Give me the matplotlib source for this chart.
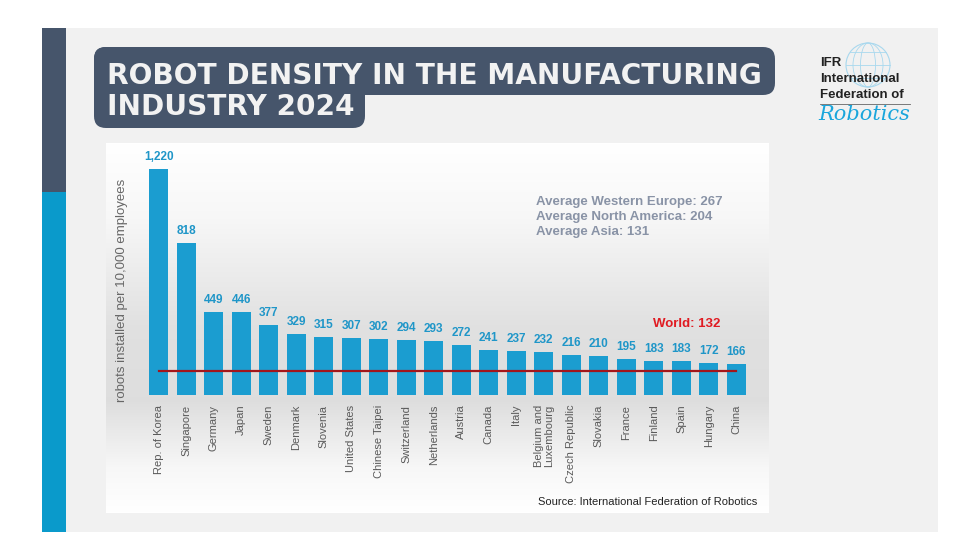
import matplotlib.pyplot as plt
from matplotlib.patches import Rectangle, FancyBboxPatch, Circle, Ellipse
import numpy as np

# data
countries = ["Rep. of Korea", "Singapore", "Germany", "Japan", "Sweden", "Denmark",
             "Slovenia", "United States", "Chinese Taipei", "Switzerland", "Netherlands",
             "Austria", "Canada", "Italy", "Belgium and\nLuxembourg", "Czech Republic",
             "Slovakia", "France", "Finland", "Spain", "Hungary", "China"]
density = [1220, 818, 449, 446, 377, 329, 315, 307, 302, 294, 293, 272,
           241, 237, 232, 216, 210, 195, 183, 183, 172, 166]
world = 132
averages = ["Average Western Europe: 267",
            "Average North America: 204",
            "Average Asia: 131"]

W, H = 980, 560
BLUE = "#1b9dd0"
NAVY = "#46556b"

fig = plt.figure(figsize=(W / 100, H / 100), dpi=100)
fig.patch.set_facecolor("white")

# background axes in pixel coordinates
bg = fig.add_axes([0, 0, 1, 1])
bg.set_xlim(0, W)
bg.set_ylim(H, 0)
bg.axis("off")

# slide background and left strip
bg.add_patch(Rectangle((66, 28), 872, 504, color="#f1f1f1", lw=0))
bg.add_patch(Rectangle((42, 28), 24, 164, color=NAVY, lw=0))
bg.add_patch(Rectangle((42, 192), 24, 340, color="#0a9acb", lw=0))

# chart panel with soft grey gradient
bg.add_patch(Rectangle((106, 143), 662, 370, color="white", lw=0))
ys = np.linspace(0, 1, 200)
shade = np.interp(ys, [0, 0.2, 0.5, 0.7, 0.88, 1], [1.0, 0.97, 0.88, 0.87, 0.97, 1.0])
grad = np.dstack([shade, shade, shade])[0][:, None, :].repeat(2, axis=1)
bg.imshow(grad, extent=[106, 768, 513, 143], aspect="auto", zorder=1)

# title box (two rounded blocks merged)
bg.add_patch(FancyBboxPatch((94, 47), 681, 48, boxstyle="round,pad=0,rounding_size=12",
                            color=NAVY, lw=0, zorder=2))
bg.add_patch(FancyBboxPatch((94, 47), 271, 81, boxstyle="round,pad=0,rounding_size=12",
                            color=NAVY, lw=0, zorder=2))
bg.add_patch(Rectangle((120, 80), 230, 30, color=NAVY, lw=0, zorder=2))
bg.text(107, 84, "ROBOT DENSITY IN THE MANUFACTURING", color="#f2f2f2", fontsize=20.2,
        fontweight="heavy", family="DejaVu Sans", ha="left", va="baseline", zorder=3)
bg.text(107, 115, "INDUSTRY 2024", color="#f2f2f2", fontsize=20.2,
        fontweight="heavy", family="DejaVu Sans", ha="left", va="baseline", zorder=3)

# IFR logo
bg.add_patch(Circle((868, 65), 22, fill=False, ec="#a8d8ee", lw=0.8, zorder=2))
for wdt in [15, 30]:
    bg.add_patch(Ellipse((868, 65), wdt, 44, fill=False, ec="#a8d8ee", lw=0.6, zorder=2))
for dy in [-13, 0, 13]:
    half = np.sqrt(22 ** 2 - dy ** 2)
    bg.plot([868 - half, 868 + half], [65 + dy, 65 + dy], color="#a8d8ee", lw=0.6, zorder=2)
for i, word in enumerate(["IFR", "International", "Federation of"]):
    bg.text(820, 63 + 16 * i, word, color="#222222", fontsize=9.5, fontweight="bold",
            family="Liberation Sans", ha="left", va="center", zorder=3)
bg.plot([820, 910], [104, 104], color="#666666", lw=0.6, zorder=3)
bg.text(818, 115, "Robotics", color="#1aa6dc", fontsize=15, style="italic",
        family="DejaVu Serif", ha="left", va="center", zorder=3)

# averages and source
for i, line in enumerate(averages):
    bg.text(536, 202 + 15 * i, line, color="#8993a6", fontsize=9.5, fontweight="bold",
            family="Liberation Sans", ha="left", va="center", zorder=3)
bg.text(757, 502, "Source: International Federation of Robotics", color="#222222",
        fontsize=8, family="Liberation Sans", ha="right", va="center", zorder=3)
bg.text(122, 290, "robots installed per 10,000 employees", color="#666666", fontsize=9.5,
        family="Liberation Sans", rotation=90, ha="center", va="center", zorder=3)

# bar chart axes
left, right, bottom, top = 145, 750, 395, 150
ax = fig.add_axes([left / W, 1 - bottom / H, (right - left) / W, (bottom - top) / H])
ax.patch.set_alpha(0)
x = np.arange(len(countries))
ax.bar(x, density, width=0.69, color=BLUE, zorder=2)
for xi, v in zip(x, density):
    ax.text(xi, v + 32, f"{v:,}", color="#1f96c8", fontsize=8.5, fontweight="bold",
            family="Liberation Sans", ha="center", va="bottom")
ax.plot([x[0], x[-1]], [world, world], color="#a3161b", lw=1.6, zorder=3)
ax.text(19.2, 385, f"World: {world}", color="#e01b22", fontsize=9.5, fontweight="bold",
        family="Liberation Sans", ha="center", va="center")
ax.set_xlim(-0.5, len(countries) - 0.5)
ax.set_ylim(0, 1320)
ax.set_xticks(x)
ax.set_xticklabels(countries, rotation=90, ha="center", va="top", fontsize=8,
                   color="#5a5a5a", family="Liberation Sans", linespacing=1.0)
ax.tick_params(axis="x", length=0, pad=7)
ax.set_yticks([])
for s in ax.spines.values():
    s.set_visible(False)

fig.savefig("out.png", dpi=100)
